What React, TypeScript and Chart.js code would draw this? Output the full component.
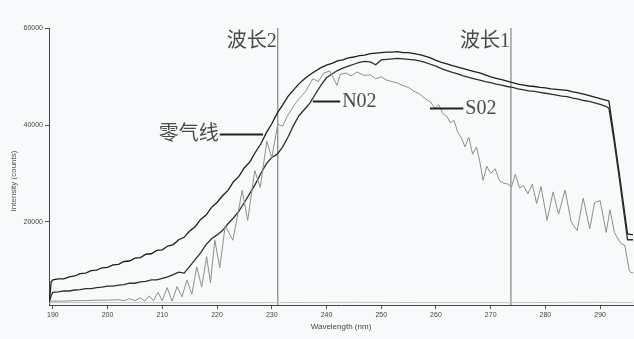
import React, { useEffect, useRef } from 'react';
import { Chart, registerables } from 'chart.js';

Chart.register(...registerables);

// ---- axis ticks ----
const xTickValues = [190, 200, 210, 220, 230, 240, 250, 260, 270, 280, 290];
const yTickValues = [20000, 40000, 60000];
const xMin = 189.3;
const xMax = 296;
const yMin = 2800;
const yMax = 60100;

// ---- 零气线 (zero gas) and NO2 share wavelengths ----
const mainWavelengths = [
  189.4, 189.7,
  190, 191, 192, 193, 194, 195, 196, 197, 198, 199,
  200, 201, 202, 203, 204, 205, 206, 207, 208, 209,
  210, 211, 212, 213, 214, 215, 216, 217, 218, 219,
  220, 221, 222, 223, 224, 225, 226, 227, 228, 229,
  230, 231, 232, 233, 234, 235, 236, 237, 238, 239,
  240, 241, 242, 243, 244, 245, 246, 247, 248, 249,
  250, 251, 252, 253, 254, 255, 256, 257, 258, 259,
  260, 261, 262, 263, 264, 265, 266, 267, 268, 269,
  270, 271, 272, 273, 274, 275, 276, 277, 278, 279,
  280, 281, 282, 283, 284, 285, 286, 287, 288, 289,
  290, 291,
  291.6, 292.5, 293.5, 295, 296,
];
const zeroGasValues = [
  4000, 7600,
  8000, 8200, 8200, 8600, 8800, 9300, 9400, 9900, 10000, 10500,
  10600, 11100, 11200, 11800, 11900, 12500, 12600, 13300, 13400, 14100,
  14200, 15000, 15300, 16300, 16800, 18100, 19000, 20500, 21400, 23000,
  24000, 25400, 26500, 28300, 29400, 31200, 32400, 34400, 36100, 38400,
  40300, 42500, 44200, 46000, 47300, 48600, 49600, 50500, 51200, 51900,
  52400, 52800, 53300, 53500, 53900, 54100, 54400, 54500, 54800, 54900,
  55000, 55100, 55100, 55200, 55000, 55000, 54800, 54600, 54300, 53900,
  53400, 53000, 52700, 52300, 52000, 51700, 51400, 51100, 50800, 50400,
  50000, 49700, 49400, 49100, 48800, 48500, 48300, 48100, 48000, 47800,
  47700, 47500, 47400, 47300, 47200, 46900, 46700, 46400, 46100, 45800,
  45500, 45200,
  45000, 38000, 30000, 17500, 17300,
];
const no2Values = [
  3500, 4800,
  5400, 5500, 5700, 5700, 5900, 6000, 6200, 6200, 6400, 6500,
  6700, 6700, 6900, 7000, 7300, 7300, 7600, 7700, 8000, 8000,
  8300, 8600, 9100, 9600, 9400, 10800, 12200, 13600, 15300, 16500,
  17300, 18200, 19600, 20800, 22200, 24000, 25900, 27800, 30000, 32000,
  33300, 34000, 35500, 37600, 40000, 42000, 43300, 44600, 46500, 48300,
  49800, 50600, 51300, 51800, 52200, 52600, 53000, 53200, 53100, 52500,
  53500, 53600, 53700, 53800, 53700, 53600, 53500, 53300, 53000, 52600,
  52200, 51700, 51300, 50900, 50600, 50200, 49900, 49600, 49300, 49000,
  48800, 48500, 48300, 48000, 47800, 47500, 47300, 47100, 47000, 46800,
  46600, 46400, 46200, 46000, 45900, 45600, 45400, 45100, 44900, 44600,
  44300, 43900,
  43500, 37000, 29000, 16300, 16300,
];

// ---- SO2 ----
const so2Wavelengths = [
  189.4, 189.7, 190, 192, 194, 196, 198, 200, 202, 203, 204, 205, 206, 206.8, 207.6, 208.4,
  209.2, 210, 210.9, 211.8, 212.7, 213.6, 214.5, 215.4, 216.3, 217.2, 218.1, 218.8, 219.6,
  220.5, 221.5, 222.9, 224.6, 225.6, 226.9, 227.9, 229.1, 230, 231.1, 232, 232.8, 234, 235,
  236.2, 237.5, 238.5, 239.5, 240.6, 241.4, 241.9, 242.5, 243.5, 244.5, 245.6, 246.8, 248,
  249, 250, 251, 252, 253, 254, 255, 256, 257, 258, 259, 259.8, 260.5, 261.2, 262, 262.6,
  263.3, 264, 264.6, 265.3, 266, 266.7, 267.4, 268, 268.6, 269.3, 270, 270.8, 271.6, 272.4,
  273.2, 273.8, 274.5, 275.3, 276, 276.8, 277.6, 278.4, 279.2, 280.3, 281.4, 282.4, 283.6,
  284.7, 285.8, 286.9, 288.1, 289, 290, 291.1, 291.8, 292.6, 293.4, 293.8, 294.5, 295.3,
  295.6, 296,
];
const so2Values = [
  3000, 3600, 3600, 3600, 3700, 3700, 3800, 3800, 3900, 3700, 4100, 3700, 4300, 3600, 4700,
  3700, 5400, 3700, 6400, 3600, 6600, 4500, 8000, 5000, 10700, 6500, 12800, 7400, 16200,
  10500, 19200, 16200, 26500, 20300, 30600, 27100, 36700, 33200, 40200, 39800, 41800, 44000,
  45500, 47000, 49600, 49000, 50800, 51200, 49500, 48200, 50500, 50800, 50200, 51000, 50300,
  50400, 49600, 50000, 49300, 49000, 48700, 48200, 47800, 47000, 46500, 45500, 44800, 43500,
  44200, 42500, 41800, 40500, 41000, 38500, 37500, 35500, 37500, 34000, 35500, 32500, 28600,
  31500, 30000, 31000, 28500, 28000, 27800, 27200, 29800, 27000, 27500, 25800, 27800, 23800,
  27300, 20300, 26200, 21600, 26600, 20000, 18200, 24900, 18600, 24000, 24400, 17800, 22500,
  17800, 16200, 15500, 15200, 10000, 9500, 9500,
];

// ---- faint baseline trace along the axis ----
const baseWavelengths = [189.4, 200, 215, 230, 245, 260, 275, 290, 296];
const baseValues = [3300, 3300, 3250, 3300, 3350, 3300, 3300, 3350, 3300];

// ---- wavelength markers ----
const markerWavelengths = [231.1, 273.7];
const markerLabels = ['波长2', '波长1'];
const markerLabelValue = 57200;

// ---- leader-line annotations ----
const annotationTexts = ['零气线', 'N02', 'S02'];
const annotationCurveWl = [228.4, 237.5, 258.9];
const annotationTextWl = [220.5, 242.5, 265.0];
const annotationValues = [38200, 44900, 43500];

const toPoints = (xs: number[], ys: number[]) => xs.map((x, i) => ({ x, y: ys[i] }));

const annotationPlugin = {
  id: 'spectrumAnnotations',
  afterDatasetsDraw(chart: any) {
    const { ctx, scales } = chart;
    const xs = scales.x;
    const ys = scales.y;
    ctx.save();
    ctx.fillStyle = '#4a4a4a';
    ctx.strokeStyle = '#222';
    ctx.font = '20px "Liberation Serif", "Noto Sans CJK SC", serif';
    ctx.textBaseline = 'middle';
    markerWavelengths.forEach((wl, i) => {
      const px = xs.getPixelForValue(wl);
      const py = ys.getPixelForValue(markerLabelValue);
      ctx.textAlign = 'right';
      ctx.fillText(markerLabels[i], px - 1, py);
    });
    annotationTexts.forEach((t, i) => {
      const cx = xs.getPixelForValue(annotationCurveWl[i]);
      const tx = xs.getPixelForValue(annotationTextWl[i]);
      const py = Math.round(ys.getPixelForValue(annotationValues[i])) + 0.5;
      ctx.lineWidth = 2;
      ctx.beginPath();
      ctx.moveTo(cx, py);
      ctx.lineTo(tx, py);
      ctx.stroke();
      if (tx < cx) {
        ctx.textAlign = 'right';
        ctx.fillText(t, tx - 1, py);
      } else {
        ctx.textAlign = 'left';
        ctx.fillText(t, tx + 2, py);
      }
    });
    ctx.font = '8px "Liberation Sans", sans-serif';
    ctx.fillStyle = '#555';
    ctx.textAlign = 'center';
    ctx.translate(14, 181);
    ctx.rotate(-Math.PI / 2);
    ctx.fillText('Intensity (counts)', 0, 0);
    ctx.restore();
  },
};

export default function App() {
  const canvasRef = useRef<HTMLCanvasElement | null>(null);

  useEffect(() => {
    if (!canvasRef.current) return;
    const markerDatasets = markerWavelengths.map((wl) => ({
      data: [
        { x: wl, y: yMin },
        { x: wl, y: yMax },
      ],
      borderColor: '#6d6d6d',
      borderWidth: 1,
      pointRadius: 0,
    }));
    const chart = new Chart(canvasRef.current, {
      type: 'line',
      data: {
        datasets: [
          {
            data: toPoints(baseWavelengths, baseValues),
            borderColor: '#c4c4c4',
            borderWidth: 1,
            pointRadius: 0,
          },
          {
            data: toPoints(so2Wavelengths, so2Values),
            borderColor: '#8e8e8e',
            borderWidth: 1,
            pointRadius: 0,
          },
          {
            data: toPoints(mainWavelengths, no2Values),
            borderColor: '#2e2e2e',
            borderWidth: 1.3,
            pointRadius: 0,
          },
          {
            data: toPoints(mainWavelengths, zeroGasValues),
            borderColor: '#1e1e1e',
            borderWidth: 1.3,
            pointRadius: 0,
          },
          ...markerDatasets,
        ],
      },
      options: {
        responsive: false,
        animation: false,
        events: [],
        layout: { padding: { top: 28, right: 1, left: 0, bottom: 0 } },
        plugins: { legend: { display: false }, tooltip: { enabled: false } },
        scales: {
          x: {
            type: 'linear',
            min: xMin,
            max: xMax,
            afterBuildTicks: (scale: any) => {
              scale.ticks = xTickValues.map((v) => ({ value: v }));
            },
            afterFit: (scale: any) => {
              scale.height = 34;
            },
            grid: {
              display: true,
              drawOnChartArea: false,
              drawTicks: true,
              tickLength: 4,
              color: '#555',
            },
            border: { display: true, color: '#444', width: 1 },
            ticks: {
              padding: 2,
              maxRotation: 0,
              autoSkip: false,
              color: '#444',
              font: { size: 7, family: '"Liberation Sans", sans-serif' },
              callback: (v: any) => String(v),
            },
            title: {
              display: true,
              text: 'Wavelength (nm)',
              color: '#444',
              font: { size: 8, family: '"Liberation Sans", sans-serif' },
              padding: { top: 0, bottom: 7 },
            },
          },
          y: {
            type: 'linear',
            min: yMin,
            max: yMax,
            afterBuildTicks: (scale: any) => {
              scale.ticks = yTickValues.map((v) => ({ value: v }));
            },
            afterFit: (scale: any) => {
              scale.width = 49;
            },
            grid: {
              display: true,
              drawOnChartArea: false,
              drawTicks: true,
              tickLength: 4,
              color: '#555',
            },
            border: { display: true, color: '#444', width: 1 },
            ticks: {
              padding: 2,
              color: '#444',
              font: { size: 7, family: '"Liberation Sans", sans-serif' },
              callback: (v: any) => String(v),
            },
          },
        },
      },
      plugins: [annotationPlugin],
    });
    return () => chart.destroy();
  }, []);

  return (
    <div
      style={{
        position: 'fixed',
        left: 0,
        top: 0,
        width: 634,
        height: 339,
        background: '#f6fafa',
        overflow: 'hidden',
      }}
    >
      <canvas ref={canvasRef} width={634} height={339} style={{ display: 'block' }} />
    </div>
  );
}
